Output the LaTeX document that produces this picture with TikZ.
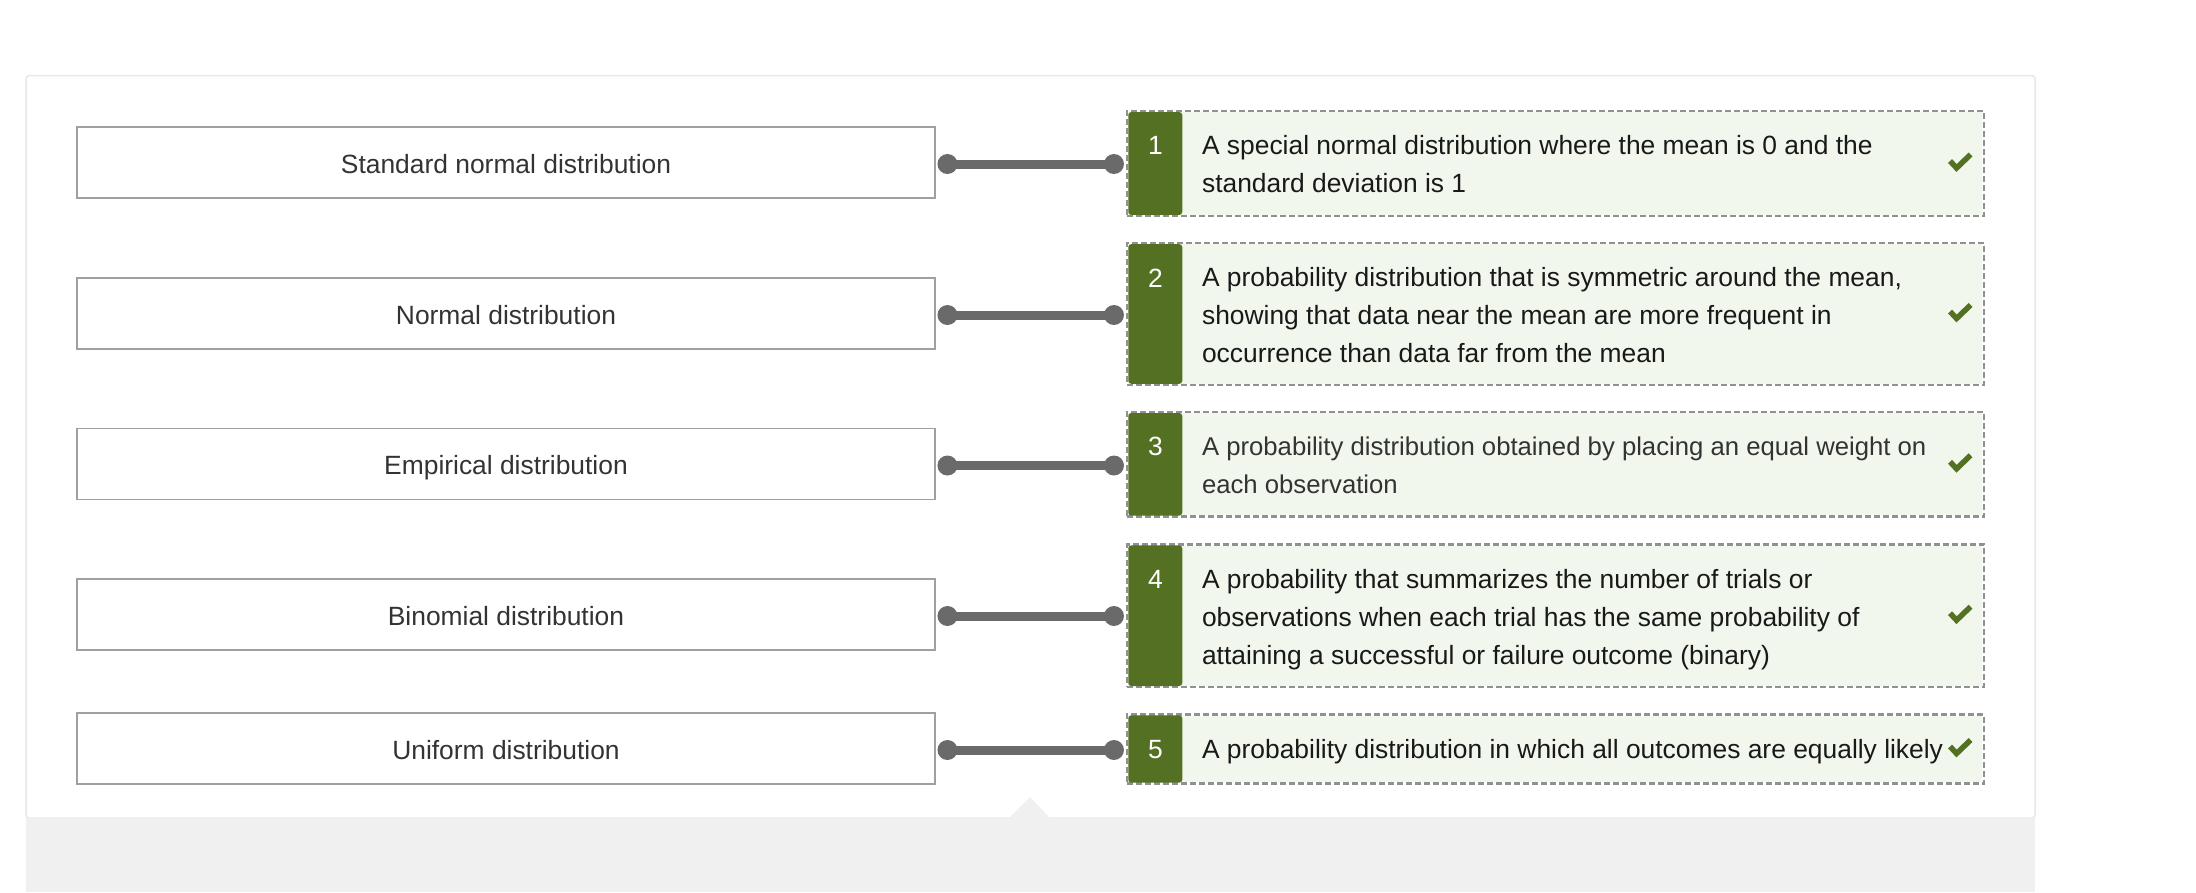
\documentclass[tikz,border=0pt]{standalone}
\usepackage{fontspec}
\setmainfont{Liberation Sans}
\usetikzlibrary{positioning}

\definecolor{ansgreen}{RGB}{84,112,34}
\definecolor{ansfill}{RGB}{241,247,237}
\definecolor{dashgray}{RGB}{145,145,145}
\definecolor{boxline}{RGB}{160,160,160}
\definecolor{labeltext}{RGB}{51,51,51}
\definecolor{linkgray}{RGB}{106,106,106}
\definecolor{panelline}{RGB}{232,232,232}
\definecolor{panelback}{RGB}{240,240,240}

\begin{document}
\begin{tikzpicture}[x=1pt,y=-1pt,
    font=\fontsize{26.4}{38}\selectfont]
  \tikzstyle{termbox}=[draw=boxline, line width=1.5pt, minimum width=858pt,
    minimum height=71pt, inner sep=0pt, text=labeltext,
    text height=21pt, text depth=0pt]
  \tikzstyle{defbox}=[draw=dashgray, line width=2.5pt, dash pattern=on 6pt off 3pt,
    minimum width=857pt, inner sep=0pt]
  \tikzstyle{numtext}=[text=white, inner sep=0pt]
  \tikzstyle{deftext}=[anchor=base west, align=left, inner sep=0pt, text=black!90]
  \tikzstyle{link}=[draw=linkgray, line width=9pt]
  \tikzstyle{tickmark}=[draw=ansgreen, line width=5.5pt]

  \useasboundingbox (0,0) rectangle (2196,892);

  % panel
  \draw[panelline, line width=1.5pt, rounded corners=3pt] (26,75.6) rectangle (2035,818);
  \fill[panelback] (26,818) rectangle (2035,892);
  \fill[panelback] (1009,818) -- (1030,797) -- (1050,818) -- cycle;

  % terms
  \node[termbox] (t1) at (506,162.5) {Standard normal distribution};
  \node[termbox] (t2) at (506,313.5) {Normal distribution};
  \node[termbox] (t3) at (506,464) {Empirical distribution};
  \node[termbox] (t4) at (506,614.5) {Binomial distribution};
  \node[termbox] (t5) at (506,748.5) {Uniform distribution};

  % definitions
  \node[defbox, minimum height=105pt] (d1) at (1555.3,163.5) {};
  \node[defbox, minimum height=141.7pt] (d2) at (1555.3,314) {};
  \node[defbox, minimum height=104.7pt] (d3) at (1555.3,464.3) {};
  \node[defbox, minimum height=142.7pt] (d4) at (1555.3,615.7) {};
  \node[defbox, minimum height=69.4pt] (d5) at (1555.3,749) {};

  \foreach \d in {d1,d2,d3,d4,d5} {
    \fill[ansfill] ([xshift=2.7pt,yshift=-2.5pt]\d.north west)
      rectangle ([xshift=-2.7pt,yshift=2.5pt]\d.south east);
    \fill[ansgreen, rounded corners=3pt] ([xshift=2.7pt,yshift=-2.3pt]\d.north west)
      rectangle ([xshift=56.7pt,yshift=2.3pt]\d.south west);
    \draw[tickmark] ([xshift=-35pt,yshift=2.5pt]\d.east)
      -- ([xshift=-28.5pt,yshift=-4.5pt]\d.east) -- ([xshift=-14.5pt,yshift=9pt]\d.east);
  }

  \node[numtext] (n1) at ([xshift=30pt,yshift=-36pt]d1.north west) {1};
  \node[numtext] (n2) at ([xshift=30pt,yshift=-36pt]d2.north west) {2};
  \node[numtext] (n3) at ([xshift=30pt,yshift=-36pt]d3.north west) {3};
  \node[numtext] (n4) at ([xshift=30pt,yshift=-36pt]d4.north west) {4};
  \node[numtext] (n5) at ([xshift=30pt,yshift=-36pt]d5.north west) {5};

  % base anchor sits on the last line
  \node[deftext] (x1) at ([xshift=76.3pt,yshift=-83pt]d1.north west)
    {A special normal distribution where the mean is 0 and the\\standard deviation is 1};
  \node[deftext] (x2) at ([xshift=76.3pt,yshift=-121pt]d2.north west)
    {A probability distribution that is symmetric around the mean,\\showing that data near the mean are more frequent in\\occurrence than data far from the mean};
  \node[deftext, text=labeltext, font=\fontsize{25.7}{38}\selectfont] (x3)
    at ([xshift=76.3pt,yshift=-83pt]d3.north west)
    {A probability distribution obtained by placing an equal weight on\\each observation};
  \node[deftext] (x4) at ([xshift=76.3pt,yshift=-121pt]d4.north west)
    {A probability that summarizes the number of trials or\\observations when each trial has the same probability of\\attaining a successful or failure outcome (binary)};
  \node[deftext] (x5) at ([xshift=76.3pt,yshift=-45pt]d5.north west)
    {A probability distribution in which all outcomes are equally likely};

  % matches
  \foreach \i in {1,...,5} {
    \coordinate (a\i) at ([xshift=11.7pt,yshift=-1.5pt]t\i.east);
    \coordinate (b\i) at ([xshift=-11.6pt,yshift=-1.5pt]t\i.east -| d\i.west);
    \draw[link] (a\i) -- (b\i);
    \fill[linkgray] (a\i) circle (10pt) (b\i) circle (10pt);
  }
\end{tikzpicture}
\end{document}
